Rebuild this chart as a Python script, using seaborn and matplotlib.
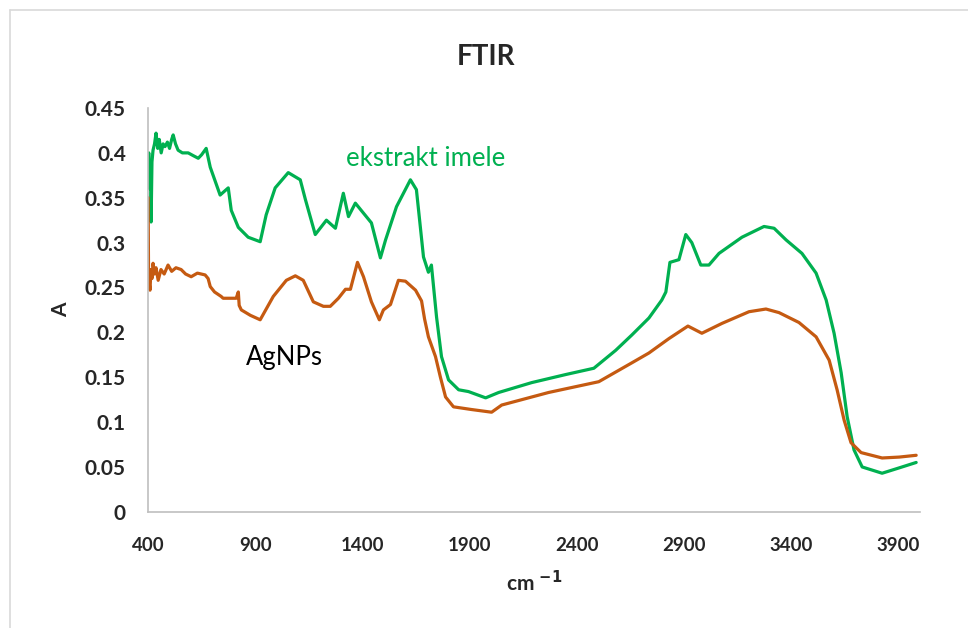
"""FTIR spectra of mistletoe extract and AgNPs."""

import matplotlib

matplotlib.use("Agg")
import matplotlib.pyplot as plt
import pandas as pd
import seaborn as sns
from matplotlib.lines import Line2D
from matplotlib.ticker import FuncFormatter, MultipleLocator

# ekstrakt imele (green)
extract_wn = [
    400, 403, 407, 411, 414, 418, 423, 430, 437, 445, 452, 461, 470, 479, 490,
    500, 510, 517, 528, 540, 560, 587, 610, 634, 650, 671, 680, 690, 736, 774,
    788, 821, 867, 923, 951, 993, 1054, 1110, 1134, 1180, 1232, 1274, 1311,
    1335, 1367, 1442, 1484, 1508, 1559, 1624, 1652, 1685, 1708, 1722, 1746,
    1769, 1802, 1849, 1895, 1975, 2036, 2190, 2349, 2480, 2582, 2657, 2737,
    2797, 2816, 2835, 2877, 2909, 2937, 2979, 3017, 3064, 3171, 3274, 3321,
    3377, 3451, 3517, 3564, 3601, 3634, 3662, 3694, 3732, 3825, 3905, 3984,
]
extract_abs = [
    0.38, 0.40, 0.36, 0.39, 0.323, 0.39, 0.403, 0.41, 0.422, 0.405, 0.415,
    0.40, 0.41, 0.407, 0.412, 0.405, 0.415, 0.42, 0.41, 0.403, 0.40, 0.40,
    0.397, 0.394, 0.398, 0.405, 0.395, 0.384, 0.353, 0.361, 0.336, 0.317,
    0.306, 0.301, 0.331, 0.361, 0.378, 0.370, 0.348, 0.309, 0.325, 0.316,
    0.355, 0.329, 0.344, 0.322, 0.283, 0.303, 0.340, 0.370, 0.359, 0.284,
    0.267, 0.275, 0.217, 0.173, 0.147, 0.136, 0.134, 0.127, 0.133, 0.144,
    0.153, 0.160, 0.180, 0.197, 0.216, 0.236, 0.245, 0.278, 0.281, 0.309,
    0.300, 0.275, 0.275, 0.288, 0.306, 0.318, 0.316, 0.303, 0.288, 0.266,
    0.236, 0.199, 0.155, 0.106, 0.069, 0.050, 0.043, 0.049, 0.055,
]

# AgNPs (orange)
agnp_wn = [
    400, 402, 405, 409, 413, 418, 423, 430, 437, 447, 460, 475, 493, 510, 530,
    554, 575, 601, 630, 666, 680, 690, 710, 741, 750, 811, 821, 825, 835, 877,
    923, 984, 1045, 1087, 1124, 1171, 1218, 1250, 1288, 1321, 1344, 1377, 1405,
    1442, 1479, 1498, 1531, 1568, 1601, 1648, 1676, 1690, 1708, 1741, 1764,
    1788, 1825, 1909, 2003, 2050, 2269, 2503, 2657, 2737, 2830, 2919, 2984,
    3078, 3204, 3283, 3344, 3437, 3517, 3578, 3615, 3648, 3680, 3727, 3825,
    3905, 3984,
]
agnp_abs = [
    0.35, 0.27, 0.255, 0.247, 0.27, 0.26, 0.277, 0.265, 0.272, 0.258, 0.27,
    0.265, 0.275, 0.268, 0.272, 0.27, 0.265, 0.262, 0.266, 0.264, 0.26, 0.251,
    0.245, 0.24, 0.238, 0.238, 0.245, 0.23, 0.225, 0.219, 0.214, 0.24, 0.258,
    0.263, 0.258, 0.234, 0.229, 0.229, 0.238, 0.248, 0.248, 0.278, 0.262,
    0.234, 0.214, 0.225, 0.231, 0.258, 0.257, 0.247, 0.235, 0.215, 0.195,
    0.173, 0.15, 0.128, 0.117, 0.114, 0.111, 0.119, 0.133, 0.145, 0.166,
    0.177, 0.193, 0.207, 0.199, 0.210, 0.223, 0.226, 0.222, 0.211, 0.195,
    0.169, 0.136, 0.102, 0.077, 0.066, 0.060, 0.061, 0.063,
]

series_names = ["ekstrakt imele", "AgNPs"]
colors = {"ekstrakt imele": "#00B050", "AgNPs": "#C55A11"}

sns.set_theme(style="white")
plt.rcParams["font.family"] = ["Lato", "DejaVu Sans"]

df = pd.concat(
    [
        pd.DataFrame({"wn": extract_wn, "A": extract_abs, "sample": series_names[0]}),
        pd.DataFrame({"wn": agnp_wn, "A": agnp_abs, "sample": series_names[1]}),
    ],
    ignore_index=True,
)

fig = plt.figure(figsize=(9.68, 6.28), dpi=100)
ax = fig.add_axes([0.153, 0.185, 0.797, 0.643])

sns.lineplot(
    data=df, x="wn", y="A", hue="sample", palette=colors, estimator=None,
    sort=False, linewidth=2.3, legend=False, ax=ax,
)
for line in ax.lines:
    line.set_solid_joinstyle("round")
    line.set_solid_capstyle("round")

ax.set_xlim(400, 4000)
ax.set_ylim(0, 0.45)
ax.set_xticks(range(400, 4000, 500))
ax.yaxis.set_major_locator(MultipleLocator(0.05))
ax.yaxis.set_major_formatter(FuncFormatter(lambda v, _: f"{round(v, 2):g}"))

for side in ("top", "right"):
    ax.spines[side].set_visible(False)
for side in ("left", "bottom"):
    ax.spines[side].set_color("#bfbfbf")
    ax.spines[side].set_linewidth(1.2)
ax.tick_params(direction="in", length=7, width=1, color="#bfbfbf")
ax.tick_params(axis="x", pad=18, labelsize=13.5)
ax.tick_params(axis="y", pad=16, labelsize=15)
for lbl in ax.get_xticklabels() + ax.get_yticklabels():
    lbl.set_fontweight("bold")

ax.set_xlabel("cm $^{\\mathbf{-1}}$", fontsize=15, fontweight="bold", labelpad=12)
ax.set_ylabel("A", fontsize=15, fontweight="bold", labelpad=10)
fig.text(0.502, 0.91, "FTIR", ha="center", va="center", fontsize=20,
         fontweight="bold")

ax.text(1325, 0.394, "ekstrakt imele", color="#00B050", fontsize=18.5,
        ha="left", va="center")
ax.text(858, 0.172, "AgNPs", color="black", fontsize=18.5, ha="left", va="center")

# light border of the chart area (top and left visible)
fig.add_artist(Line2D([10 / 968, 1.0], [1 - 10 / 628] * 2, color="#d9d9d9", lw=1.2))
fig.add_artist(Line2D([10 / 968] * 2, [0, 1 - 10 / 628], color="#d9d9d9", lw=1.2))

fig.savefig("out.png", dpi=100)
